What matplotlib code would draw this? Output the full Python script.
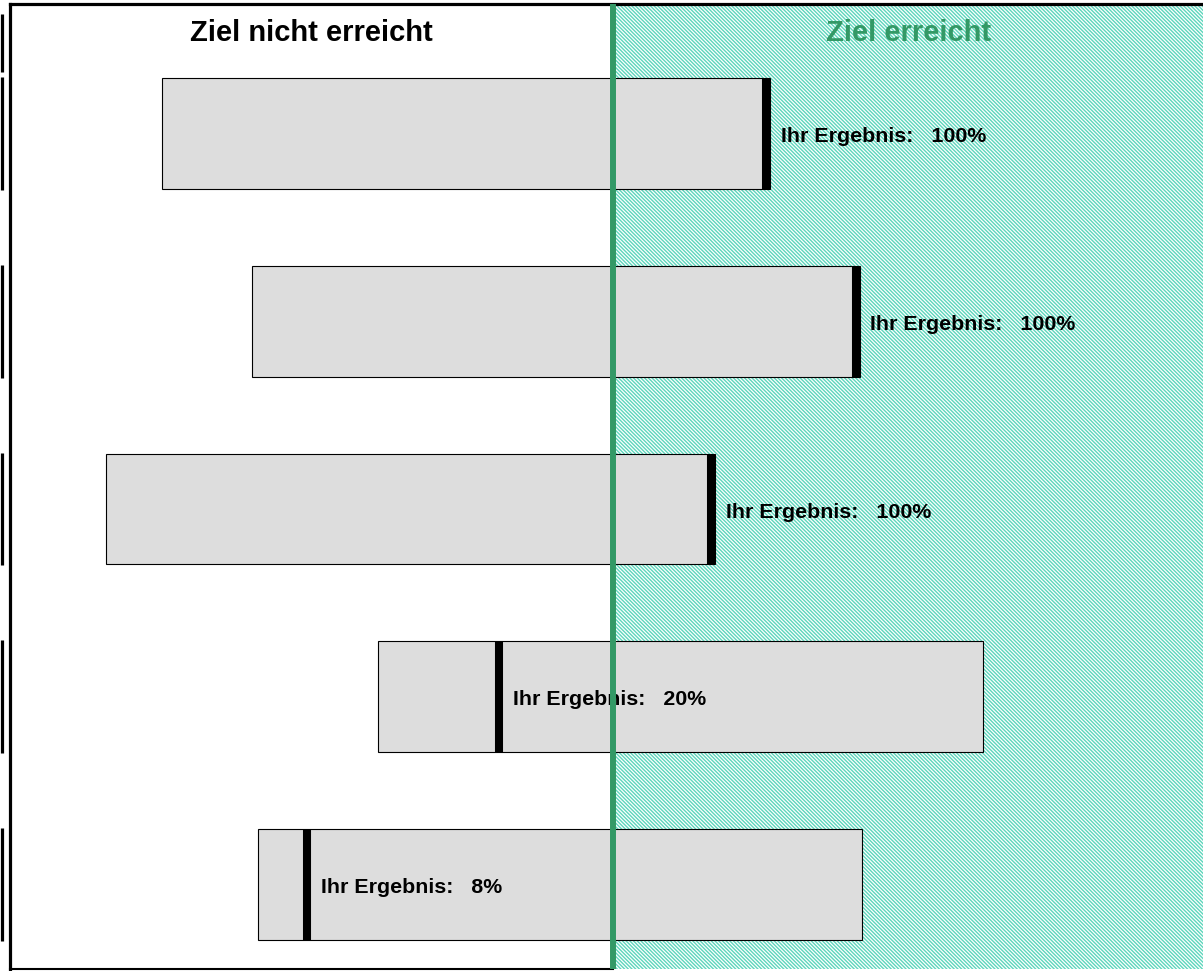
import numpy as np
import matplotlib
matplotlib.use("Agg")
import matplotlib.pyplot as plt
import matplotlib.transforms as mtransforms

# Daten (x in Prozent der Achsenbreite)
ziel_grenze = 50.6
bar_start = [12.8, 20.3, 8.1, 30.9, 20.8]
bar_ende = [63.7, 71.3, 59.1, 81.6, 71.4]
ergebnis_pos = [63.4, 70.9, 58.8, 41.0, 24.9]
ergebnis_txt = ["100%", "100%", "100%", "20%", "8%"]
titel_links = "Ziel nicht erreicht"
titel_rechts = "Ziel erreicht"

gruen = "#339966"
schraffur = "#5dd6bc"
plt.rcParams['font.family'] = ['Liberation Sans', 'DejaVu Sans']
plt.rcParams['hatch.color'] = schraffur
plt.rcParams['hatch.linewidth'] = 1.0

fig = plt.figure(figsize=(12.03, 9.71), dpi=100)
ax = fig.add_axes([9.5 / 1203, 2 / 971, 1 - 9.5 / 1203, (967 - 2) / 971])

n = len(bar_start)
y = np.arange(n)
ax.set_xlim(0, 100)
ax.set_ylim(4.45, -0.69)

# rechter Bereich schraffiert
ax.axvspan(ziel_grenze, 100, facecolor='white', hatch='\\' * 9, edgecolor=schraffur,
           linewidth=0, zorder=0)

breite = np.array(bar_ende) - np.array(bar_start)
ax.barh(y, breite, left=bar_start, height=0.59, color='#dddddd', edgecolor='black',
        linewidth=0.8, zorder=2)
ax.vlines(ergebnis_pos, y - 0.295, y + 0.295, color='black', linewidth=5.8, zorder=3)

for i in range(n):
    ax.annotate("Ihr Ergebnis:   " + ergebnis_txt[i], (ergebnis_pos[i], y[i]),
                xytext=(10.5, -2.3), textcoords='offset points', va='center', ha='left',
                fontsize=15.4, fontweight='bold', zorder=4)

ax.axvline(ziel_grenze, color=gruen, linewidth=4.3, zorder=5)

ax.text(ziel_grenze / 2, -0.535, titel_links, ha='center', va='center', fontsize=21,
        fontweight='bold', color='black')
ax.text((ziel_grenze + 100) / 2, -0.535, titel_rechts, ha='center', va='center',
        fontsize=21, fontweight='bold', color=gruen)

# Markierungen links aussen
trans = mtransforms.blended_transform_factory(ax.transAxes, ax.transData)
y_unten = [-0.636] + list(y - 0.30)
y_oben = [-0.33] + list(y + 0.30)
ax.vlines([-8 / 1194] * len(y_unten), y_unten, y_oben,
          color='black', linewidth=2.3, transform=trans, clip_on=False)

ax.spines['right'].set_visible(False)
ax.spines['bottom'].set_visible(False)
ax.spines['left'].set_linewidth(2.3)
ax.spines['top'].set_linewidth(2.3)
ax.plot([0, ziel_grenze], [4.45, 4.45], color='black', linewidth=1.5, clip_on=False, zorder=1)
ax.set_xticks([])
ax.set_yticks([])

fig.savefig("out.png", dpi=100)
